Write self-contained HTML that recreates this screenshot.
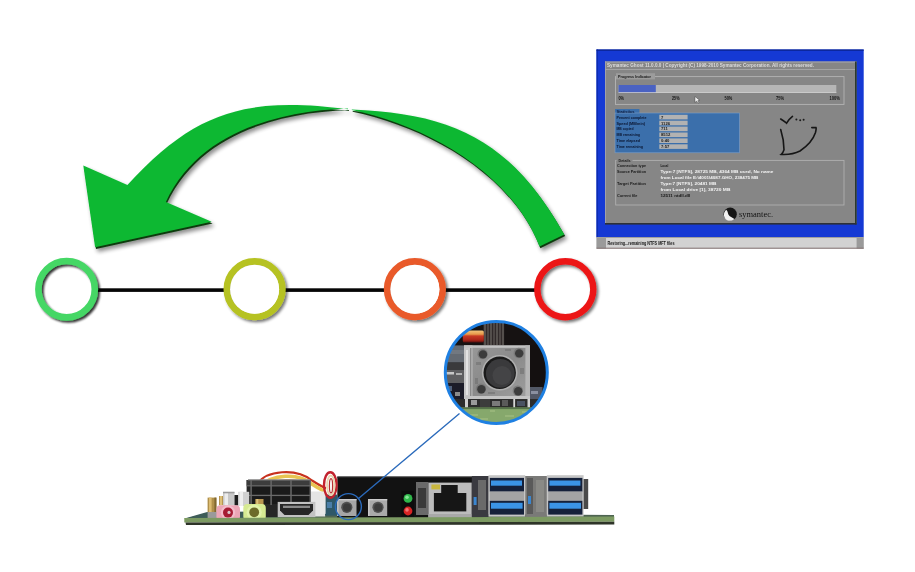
<!DOCTYPE html>
<html><head><meta charset="utf-8">
<style>
html,body{margin:0;padding:0;background:#fff;}
body{width:915px;height:572px;overflow:hidden;position:relative;font-family:"Liberation Sans",sans-serif;}
svg{position:absolute;left:0;top:0;display:block;filter:blur(0.4px);}
</style></head>
<body>
<svg width="915" height="572" viewBox="0 0 915 572">
<defs>
  <filter id="sh" x="-20%" y="-20%" width="150%" height="150%">
    <feGaussianBlur in="SourceAlpha" stdDeviation="2.2"/>
    <feOffset dx="2" dy="3" result="b"/>
    <feComponentTransfer><feFuncA type="linear" slope="0.45"/></feComponentTransfer>
    <feMerge><feMergeNode/><feMergeNode in="SourceGraphic"/></feMerge>
  </filter>
  <filter id="shr" x="-20%" y="-20%" width="150%" height="150%">
    <feGaussianBlur in="SourceAlpha" stdDeviation="1.1"/>
    <feOffset dx="1.6" dy="2" result="b"/>
    <feComponentTransfer><feFuncA type="linear" slope="0.8"/></feComponentTransfer>
    <feMerge><feMergeNode/><feMergeNode in="SourceGraphic"/></feMerge>
  </filter>
  <filter id="shy" x="-20%" y="-20%" width="150%" height="150%">
    <feGaussianBlur in="SourceAlpha" stdDeviation="1.6"/>
    <feOffset dx="1.8" dy="2.2" result="b"/>
    <feComponentTransfer><feFuncA type="linear" slope="0.55"/></feComponentTransfer>
    <feMerge><feMergeNode/><feMergeNode in="SourceGraphic"/></feMerge>
  </filter>
  <filter id="soft"><feGaussianBlur stdDeviation="0.45"/></filter>
  <filter id="soft2"><feGaussianBlur stdDeviation="0.7"/></filter>
  <linearGradient id="wireg" x1="0" y1="0" x2="0" y2="1">
    <stop offset="0" stop-color="#f0c27a"/>
    <stop offset="0.3" stop-color="#e89a4a"/>
    <stop offset="0.45" stop-color="#c83a24"/>
    <stop offset="0.8" stop-color="#a82418"/>
    <stop offset="1" stop-color="#501010"/>
  </linearGradient>
  <linearGradient id="bodyg" x1="0" y1="0" x2="1" y2="1">
    <stop offset="0" stop-color="#9a9a9a"/>
    <stop offset="0.5" stop-color="#8a8a8a"/>
    <stop offset="1" stop-color="#a0a0a0"/>
  </linearGradient>
  <clipPath id="mag"><circle cx="496.3" cy="372.4" r="51.5"/></clipPath>
</defs>

<!-- ===== ARROW ===== -->
<g id="arrow" filter="url(#sh)">
  <g transform="translate(0.9,1.7)" fill="#0b3a0e">
    <path id="aL" d="M348,109.2 C248.2,96.8 196,109.5 127.4,185.1 L83.3,165.5 L95.1,247.2 L211.7,221.8 L165.9,201.9 C198.9,131.8 278.6,110.9 348,108.4 Z"/>
    <path id="aR" d="M351.8,109.4 C454.2,113.5 511.7,140.9 564.3,234.4 L539.5,246.6 C511,171.8 425,125.3 351.8,110 Z"/>
  </g>
  <g fill="#0db833">
    <use href="#aL"/>
    <use href="#aR"/>
  </g>
</g>

<!-- ===== LINE + CIRCLES ===== -->
<rect x="96" y="288.3" width="440" height="3.6" fill="#050505"/>
<g fill="#fff">
  <circle cx="66.6" cy="289.2" r="28"/>
  <circle cx="254.6" cy="289.2" r="28"/>
  <circle cx="414.9" cy="289.2" r="28"/>
  <circle cx="565.3" cy="289.2" r="28"/>
</g>
<g filter="url(#shr)" fill="none">
  <circle cx="66.6" cy="289.2" r="28.2" stroke="#44d765" stroke-width="6.6"/>
</g>
<g filter="url(#shy)" fill="none">
  <circle cx="565.3" cy="289.2" r="28" stroke="#ec1418" stroke-width="6.4"/>
</g>
<g filter="url(#shy)" fill="none">
  <circle cx="254.6" cy="289.2" r="27.8" stroke="#b6c220" stroke-width="6.6"/>
  <circle cx="414.9" cy="289.2" r="27.8" stroke="#e95a2a" stroke-width="6.6"/>
</g>
<g fill="#fff">
  <circle cx="254.6" cy="289.2" r="24.5"/>
  <circle cx="414.9" cy="289.2" r="24.5"/>
</g>

<!-- ===== SCREENSHOT ===== -->
<g id="shot">
  <rect x="596.5" y="49.5" width="267.2" height="188" fill="#1539d4"/>
  <rect x="596.5" y="49.5" width="1.4" height="188" fill="#0c2cb0"/>
  <rect x="596.5" y="49.5" width="267.2" height="1.3" fill="#0a2490"/>
  <rect x="605" y="61.5" width="251.5" height="162.5" fill="#868686"/>
  <rect x="605" y="61.5" width="251.5" height="1" fill="#a8a8b0"/>
  <rect x="605" y="61.5" width="1" height="162.5" fill="#a0a0a8"/>
  <rect x="855" y="61.5" width="1.6" height="163" fill="#2c3a2c"/>
  <rect x="605" y="223" width="251.5" height="1.6" fill="#2c3038"/>
  <rect x="605" y="69" width="250" height="0.9" fill="#a8a8a8"/>
  <text x="607" y="67.2" font-size="4.6" fill="#dcdcdc" font-weight="bold" textLength="207" lengthAdjust="spacingAndGlyphs">Symantec Ghost 11.0.0.0 | Copyright (C) 1998-2010 Symantec Corporation. All rights reserved.</text>
  <!-- progress frame -->
  <rect x="615.5" y="76.6" width="228.5" height="27.8" fill="none" stroke="#b4b4b4" stroke-width="0.9"/>
  <rect x="616" y="73.2" width="39" height="6.2" fill="#9c9c9c"/>
  <text x="618" y="78.4" font-size="4.4" fill="#151515" font-weight="bold" textLength="33" lengthAdjust="spacingAndGlyphs">Progress Indicator</text>
  <rect x="618.5" y="85" width="217.8" height="8" fill="#b6b6b6"/>
  <rect x="618.5" y="85" width="37.3" height="8" fill="#4a62c2"/>
  <rect x="618.5" y="92.2" width="217.8" height="0.8" fill="#d0d0d0"/>
  <g font-size="5.4" fill="#141414" font-weight="bold">
    <text x="618.5" y="100.4" textLength="5.5" lengthAdjust="spacingAndGlyphs">0%</text>
    <text x="672" y="100.4" textLength="7.5" lengthAdjust="spacingAndGlyphs">25%</text>
    <text x="724.5" y="100.4" textLength="7.8" lengthAdjust="spacingAndGlyphs">50%</text>
    <text x="776" y="100.4" textLength="8" lengthAdjust="spacingAndGlyphs">75%</text>
    <text x="829.5" y="100.4" textLength="10.5" lengthAdjust="spacingAndGlyphs">100%</text>
  </g>
  <!-- cursor -->
  <path d="M695,96.5 L695,102.5 L696.6,101 L698,103.4 L699,103 L697.8,100.6 L699.8,100.4 Z" fill="#f4f4f4" stroke="#303030" stroke-width="0.4"/>
  <!-- statistics -->
  <rect x="615" y="113" width="124.6" height="39.8" fill="#3b6fab"/>
  <rect x="615" y="109" width="24.4" height="4.5" fill="#3b6fab"/>
  <rect x="615" y="113" width="124.6" height="39.8" fill="none" stroke="#7fa0c8" stroke-width="0.6"/>
  <text x="616.5" y="112.8" font-size="4.2" fill="#0d1d40" font-weight="bold" textLength="18" lengthAdjust="spacingAndGlyphs">Statistics</text>
  <g fill="#b2b2b2">
    <rect x="659.3" y="114.8" width="28.3" height="4.6"/>
    <rect x="659.3" y="120.7" width="28.3" height="4.6"/>
    <rect x="659.3" y="126.6" width="28.3" height="4.6"/>
    <rect x="659.3" y="132.5" width="28.3" height="4.6"/>
    <rect x="659.3" y="138.4" width="28.3" height="4.6"/>
    <rect x="659.3" y="144.3" width="28.3" height="4.6"/>
  </g>
  <g font-size="4.2" fill="#0a1530" font-weight="bold">
    <text x="616.5" y="118.6" textLength="30" lengthAdjust="spacingAndGlyphs">Percent complete</text>
    <text x="616.5" y="124.5" textLength="28.5" lengthAdjust="spacingAndGlyphs">Speed (MB/min)</text>
    <text x="616.5" y="130.4" textLength="17" lengthAdjust="spacingAndGlyphs">MB copied</text>
    <text x="616.5" y="136.3" textLength="23.5" lengthAdjust="spacingAndGlyphs">MB remaining</text>
    <text x="616.5" y="142.2" textLength="23.5" lengthAdjust="spacingAndGlyphs">Time elapsed</text>
    <text x="616.5" y="148.1" textLength="26.5" lengthAdjust="spacingAndGlyphs">Time remaining</text>
  </g>
  <g font-size="4.2" fill="#1a1a1a" font-weight="bold">
    <text x="661" y="118.6">7</text>
    <text x="661" y="124.5">1126</text>
    <text x="661" y="130.4">711</text>
    <text x="661" y="136.3">8512</text>
    <text x="661" y="142.2">0:40</text>
    <text x="661" y="148.1">7:57</text>
  </g>
  <!-- ghost -->
  <g fill="none" stroke="#161616" stroke-width="1.6" stroke-linecap="round">
    <path d="M780.7,119 Q784,121 786.6,123.2 Q789,119 792.5,116.4"/>
    <path d="M780.7,129.5 Q784,140 784,149.8 Q783,153 781.3,154.4 Q792,155 800,151 Q812,143 815.4,132.8 Q816.5,128.5 816,127.5 L811.8,127.6"/>
  </g>
  <g fill="#1c1c1c">
    <circle cx="796.4" cy="119.6" r="1"/>
    <circle cx="800.2" cy="120.2" r="1"/>
    <circle cx="803.6" cy="119.8" r="1"/>
  </g>
  <!-- details -->
  <rect x="615.7" y="160.4" width="228.3" height="44.6" fill="none" stroke="#b0b0b0" stroke-width="0.9"/>
  <rect x="616.5" y="157.5" width="16" height="5" fill="#868686"/>
  <text x="618.5" y="161.8" font-size="4.2" fill="#1a1a1a" font-weight="bold" textLength="12" lengthAdjust="spacingAndGlyphs">Details</text>
  <g font-size="4.2" fill="#1a1a1a" font-weight="bold">
    <text x="617" y="167.3" textLength="29" lengthAdjust="spacingAndGlyphs">Connection type</text>
    <text x="617" y="173.2" textLength="29" lengthAdjust="spacingAndGlyphs">Source Partition</text>
    <text x="617" y="185" textLength="29" lengthAdjust="spacingAndGlyphs">Target Partition</text>
    <text x="617" y="197" textLength="20.5" lengthAdjust="spacingAndGlyphs">Current file</text>
    <text x="660.4" y="167.3" textLength="8" lengthAdjust="spacingAndGlyphs">Local</text>
    <text x="660.4" y="197" textLength="30" lengthAdjust="spacingAndGlyphs">12511 ntdll.dll</text>
  </g>
  <g font-size="4.4" fill="#f4f4f4" font-weight="bold">
    <text x="660.4" y="173.2" textLength="113" lengthAdjust="spacingAndGlyphs">Type:7 [NTFS], 28725 MB, 4364 MB used, No name</text>
    <text x="660.4" y="179" textLength="98" lengthAdjust="spacingAndGlyphs">from Local file E:\4001\4087.GHO, 238475 MB</text>
    <text x="660.4" y="185" textLength="56" lengthAdjust="spacingAndGlyphs">Type:7 [NTFS], 20481 MB</text>
    <text x="660.4" y="190.8" textLength="70" lengthAdjust="spacingAndGlyphs">from Local drive [1], 38720 MB</text>
  </g>
  <!-- symantec logo -->
  <circle cx="730.2" cy="214.2" r="6.6" fill="#161616"/>
  <path d="M726.2,209.8 C723,212.5 723.2,218 727,220.2 C729.5,221.4 732.6,220.9 734.4,219 C732.6,217.2 729.4,216.6 728.4,214.4 C727.6,212.6 727.8,211 726.2,209.8 Z" fill="#f2f2f2"/>
  <text x="739" y="217.2" font-family="Liberation Serif, serif" font-size="9" fill="#121212" textLength="34" lengthAdjust="spacingAndGlyphs">symantec.</text>
  <!-- status bar -->
  <rect x="596.5" y="237" width="267.2" height="11.5" fill="#d2d2d2"/>
  <rect x="596.5" y="237" width="267.2" height="1" fill="#a0a0a0"/>
  <rect x="596.5" y="238" width="9.5" height="10.5" fill="#9a9a9a"/>
  <rect x="856.6" y="238" width="7.1" height="10.5" fill="#9a9a9a"/>
  <rect x="596.5" y="247.7" width="267.2" height="1" fill="#807070"/>
  <text x="607.5" y="244.8" font-size="4.6" fill="#141414" font-weight="bold" textLength="67" lengthAdjust="spacingAndGlyphs">Restoring...remaining NTFS MFT files</text>
</g>

<!-- ===== MOTHERBOARD ===== -->
<g id="board">
  <!-- board top surface -->
  <path d="M184,519 L211,512 L614,515 L614,518 Z" fill="#4e6452"/>
  <!-- black block -->
  <rect x="337.3" y="476.6" width="146" height="41" fill="#121212"/>
  <rect x="337.3" y="476.6" width="146" height="1.2" fill="#2a2a2a"/>
  <!-- wires arc above power connector -->
  <path d="M258,483.5 C266,470.5 296,467.5 312,480.5 C318,484.5 322,486.5 326,488.5" fill="none" stroke="#c8321e" stroke-width="2.2"/>
  <path d="M261.5,486 C271.5,474.5 298,472.5 311,483.5 C317,487.5 321,489.5 325,491.5" fill="none" stroke="#e8c452" stroke-width="3.6"/>
  <path d="M266,487 C276,478 298,477 310,486" fill="none" stroke="#d8843a" stroke-width="1.4"/>
  <!-- white connector -->
  <rect x="306.7" y="491.5" width="18.5" height="25" fill="#e4e4e4"/>
  <!-- power connector -->
  <rect x="246.6" y="480" width="64.4" height="37" fill="#262626"/>
  <rect x="246.6" y="480" width="64.4" height="5.5" fill="#3c3c3c"/>
  <rect x="248" y="479.2" width="62" height="1.2" fill="#8a8a8a"/>
  <g fill="#1a1a1a">
    <rect x="252.2" y="486.6" width="18" height="8"/>
    <rect x="272.2" y="486.6" width="18" height="8"/>
    <rect x="292" y="486.6" width="17.5" height="8"/>
    <rect x="252.2" y="496.4" width="18" height="7.6"/>
    <rect x="272.2" y="496.4" width="18" height="7.6"/>
    <rect x="292" y="496.4" width="17.5" height="7.6"/>
  </g>
  <g fill="#6a6a6a">
    <rect x="246.6" y="485.2" width="64.4" height="1.2"/>
    <rect x="246.6" y="494.8" width="64.4" height="1.2"/>
    <rect x="250.4" y="480" width="1.4" height="25"/>
    <rect x="270.4" y="480" width="1.4" height="25"/>
    <rect x="290.3" y="480" width="1.4" height="25"/>
    <rect x="309.6" y="480" width="1.4" height="25"/>
  </g>
  <!-- board top surface dark -->
  <path d="M184.5,518.6 L207.2,511.9 L260,511.5 L260,519 Z" fill="#3e5c58"/>
  <!-- gold caps -->
  <rect x="207.6" y="497.6" width="8.8" height="14.7" fill="#b0904a"/>
  <rect x="209" y="497.6" width="2.6" height="14.7" fill="#dcbc72"/>
  <rect x="214.4" y="497.6" width="2" height="14.7" fill="#806830"/>
  <rect x="207.6" y="512" width="9.5" height="6" fill="#9a9a9a"/>
  <rect x="219" y="496" width="7.5" height="9.2" fill="#b89650"/>
  <rect x="220" y="496" width="2" height="9.2" fill="#dcc07a"/>
  <!-- silver caps -->
  <rect x="223" y="491.8" width="11.5" height="13.5" fill="#c8c8c8"/>
  <rect x="224.5" y="491.8" width="3.5" height="13.5" fill="#ececec"/>
  <rect x="223" y="491.8" width="11.5" height="1.5" fill="#9a9a9a"/>
  <rect x="234.5" y="495" width="3.8" height="10.5" fill="#1e1e1e"/>
  <rect x="238.3" y="491.8" width="10.9" height="14.2" fill="#d0d0d0"/>
  <rect x="239.5" y="491.8" width="3.5" height="14.2" fill="#eeeeee"/>
  <rect x="255.3" y="499" width="8.2" height="7" fill="#b89650"/>
  <rect x="256.3" y="499" width="2" height="7" fill="#dcc07a"/>
  <!-- audio jacks -->
  <rect x="216.4" y="505.2" width="23.6" height="15.6" rx="4" fill="#eca6b6"/>
  <circle cx="228" cy="512.6" r="7.2" fill="#f4bccb"/>
  <circle cx="228" cy="512.6" r="5" fill="#a61c34"/>
  <circle cx="229" cy="512.4" r="1.6" fill="#d8c8cc"/>
  <rect x="243.3" y="504" width="22.5" height="16.5" rx="4" fill="#d6ea92"/>
  <circle cx="254.2" cy="512.3" r="7.6" fill="#e2f2aa"/>
  <circle cx="254.2" cy="512.3" r="4.9" fill="#6c6a2a"/>
  <!-- HDMI -->
  <rect x="277.7" y="501.9" width="37.7" height="15.3" fill="#c2c2c2"/>
  <path d="M280,504 L313,504 L313,510.5 L308.5,515 L284.5,515 L280,510.5 Z" fill="#262626"/>
  <rect x="283" y="505.7" width="27" height="2.3" fill="#8a8a8a"/>
  <!-- small blue parts near buttons -->
  <rect x="325.2" y="494.6" width="12" height="21" fill="#2e5868"/>
  <rect x="327" y="502" width="5" height="6" fill="#4a7ea8"/>
  <rect x="320" y="492" width="5.5" height="22" fill="#e8e8e8"/>
  <!-- red loop wires -->
  <ellipse cx="330.3" cy="485" rx="6.3" ry="12.8" fill="none" stroke="#c2222e" stroke-width="2.4"/>
  <ellipse cx="330.8" cy="485.4" rx="3.7" ry="9.8" fill="none" stroke="#e8d6b0" stroke-width="1.8"/>
  <ellipse cx="331" cy="485.8" rx="1.6" ry="7.2" fill="none" stroke="#b83030" stroke-width="1.3"/>
  <!-- buttons -->
  <rect x="337" y="499" width="19.5" height="17" fill="#a6a6a6"/>
  <rect x="337" y="499" width="19.5" height="1.4" fill="#cacaca"/>
  <rect x="337" y="499" width="1.6" height="17" fill="#c4c4c4"/>
  <circle cx="346.8" cy="507.3" r="5.6" fill="#505050"/>
  <circle cx="347" cy="507.5" r="4" fill="#3a3a3a"/>
  <rect x="368" y="499" width="19.2" height="17" fill="#aaaaaa"/>
  <rect x="368" y="499" width="19.2" height="1.4" fill="#cccccc"/>
  <rect x="368" y="499" width="1.6" height="17" fill="#c6c6c6"/>
  <circle cx="378" cy="507.3" r="5.6" fill="#525252"/>
  <circle cx="378.2" cy="507.5" r="4" fill="#3c3c3c"/>
  <!-- LEDs -->
  <rect x="401.4" y="490.8" width="12.6" height="25.6" fill="#0c0c0c"/>
  <circle cx="408" cy="498.4" r="4.4" fill="#2fb64a"/>
  <circle cx="407" cy="497.3" r="1.8" fill="#86e696"/>
  <circle cx="408" cy="511" r="4.4" fill="#d82424"/>
  <circle cx="407" cy="509.9" r="1.8" fill="#f27474"/>
  <!-- left of RJ45 -->
  <rect x="416" y="482" width="12.4" height="33" fill="#6a6a6a"/>
  <rect x="418" y="488" width="8" height="20" fill="#3a3a3a"/>
  <!-- RJ45 -->
  <rect x="428.4" y="482.6" width="43.4" height="36.1" fill="#bcbcbc"/>
  <rect x="433.9" y="493" width="32.4" height="18.4" fill="#161616"/>
  <rect x="441.2" y="485" width="16.5" height="8" fill="#161616"/>
  <rect x="431.4" y="484.5" width="8.6" height="4.9" fill="#c8b63e"/>
  <rect x="428.4" y="514" width="43.4" height="4.7" fill="#a8a8a8"/>
  <!-- between RJ45 and USB -->
  <rect x="471.8" y="476" width="17" height="41" fill="#3a3a40"/>
  <rect x="473.6" y="497" width="3" height="8" fill="#3a86d0"/>
  <rect x="478" y="480" width="8" height="30" fill="#6a6a6a"/>
  <!-- USB group 1 -->
  <g>
    <rect x="488.5" y="475.2" width="36.7" height="41.4" fill="#c6c6c6"/>
    <rect x="489.8" y="477.9" width="34.2" height="13.7" fill="#16213a"/>
    <rect x="491" y="480.5" width="31" height="5.2" fill="#3b94e6"/>
    <rect x="489.8" y="491.6" width="34.2" height="9.2" fill="#a4a4a4"/>
    <rect x="489.8" y="500.8" width="34.2" height="13.8" fill="#16213a"/>
    <rect x="491" y="502.8" width="31.6" height="5.9" fill="#3b94e6"/>
  </g>
  <!-- between USB groups -->
  <rect x="525.2" y="476" width="21.7" height="41" fill="#7a7a78"/>
  <rect x="527" y="478" width="6" height="36" fill="#5a5a5a"/>
  <rect x="528" y="496" width="3" height="8" fill="#3a86d0"/>
  <rect x="536" y="480" width="8" height="32" fill="#8a8a86"/>
  <!-- USB group 2 -->
  <g>
    <rect x="546.9" y="475.2" width="36.7" height="41.4" fill="#c6c6c6"/>
    <rect x="548.2" y="477.9" width="34.2" height="13.7" fill="#16213a"/>
    <rect x="549.4" y="480.5" width="31" height="5.2" fill="#3b94e6"/>
    <rect x="548.2" y="491.6" width="34.2" height="9.2" fill="#a4a4a4"/>
    <rect x="548.2" y="500.8" width="34.2" height="13.8" fill="#16213a"/>
    <rect x="549.4" y="502.8" width="31.6" height="5.9" fill="#3b94e6"/>
  </g>
  <rect x="583.6" y="479" width="4.6" height="30" fill="#4a4a4a"/>
  <!-- board front edge -->
  <path d="M184.3,518 L614.3,516.6 L614.3,521.8 L184.3,522.4 Z" fill="#7c9a62"/>
  <path d="M185.5,522.4 L614.3,521.8 L614.3,524.6 L186,525 Z" fill="#2e3428"/>
</g>
<!-- ===== MAGNIFIER ===== -->
<g id="magnifier">
  <g clip-path="url(#mag)">
    <rect x="440" y="318" width="115" height="110" fill="#161212"/>
    <!-- ribbed connector top -->
    <rect x="483.6" y="318" width="20.5" height="27.5" fill="#4c4644"/>
    <g stroke="#2c2626" stroke-width="0.9">
      <line x1="486.5" y1="318" x2="486.5" y2="345"/><line x1="489.5" y1="318" x2="489.5" y2="345"/>
      <line x1="492.5" y1="318" x2="492.5" y2="345"/><line x1="495.5" y1="318" x2="495.5" y2="345"/>
      <line x1="498.5" y1="318" x2="498.5" y2="345"/><line x1="501.5" y1="318" x2="501.5" y2="345"/>
    </g>
    <g stroke="#6a6462" stroke-width="0.6">
      <line x1="485" y1="318" x2="485" y2="345"/><line x1="491" y1="318" x2="491" y2="345"/>
      <line x1="497" y1="318" x2="497" y2="345"/><line x1="503" y1="318" x2="503" y2="345"/>
    </g>
    <!-- wires -->
    <rect x="462.8" y="330.6" width="21" height="12" rx="1.5" fill="url(#wireg)"/>
    <!-- left components -->
    <rect x="443" y="345.4" width="21" height="17.2" fill="#646a72"/>
    <rect x="443" y="350" width="21" height="4" fill="#727880" />
    <rect x="443" y="362.6" width="21" height="8" fill="#3a3a3c"/>
    <rect x="443" y="370" width="21" height="13" fill="#5e5e60"/>
    <rect x="446" y="372" width="8" height="2.5" fill="#c8c8c8"/>
    <rect x="456" y="373" width="6" height="2" fill="#b0b0b0"/>
    <rect x="443" y="383" width="21" height="16.4" fill="#1c1c28"/>
    <rect x="448" y="386" width="4" height="5" fill="#50607a"/>
    <rect x="455" y="392" width="5" height="4" fill="#8a8a8a"/>
    <!-- right components -->
    <rect x="530" y="345" width="20" height="42" fill="#141010"/>
    <rect x="528.5" y="387" width="14" height="16.5" fill="#525866"/>
    <rect x="531" y="391" width="7" height="3" fill="#8a90a0"/>
    <!-- legs zone -->
    <rect x="443" y="399" width="110" height="8.6" fill="#2c2c2c"/>
    <rect x="465" y="399" width="3" height="8.6" fill="#d0d0d0"/>
    <rect x="471" y="400" width="6" height="5" fill="#9a9a9a"/>
    <rect x="480" y="399" width="10" height="8" fill="#3c3c3c"/>
    <rect x="492" y="401" width="8" height="5" fill="#7a7a7a"/>
    <rect x="502" y="400" width="6" height="6" fill="#5a5a5a"/>
    <rect x="513.3" y="399" width="1.8" height="8.6" fill="#d8d8d8"/>
    <rect x="527.5" y="399" width="2.5" height="8.6" fill="#d4d4d4"/>
    <rect x="517" y="401" width="8" height="5" fill="#4a5262"/>
    <!-- PCB -->
    <rect x="440" y="407.5" width="115" height="21" fill="#86a86c"/>
    <rect x="440" y="407.5" width="115" height="1.6" fill="#56744a"/>
    <g fill="#9cb87e" opacity="0.8">
      <rect x="452" y="411" width="6" height="2"/><rect x="470" y="414" width="8" height="2"/>
      <rect x="490" y="410" width="5" height="2"/><rect x="505" y="415" width="9" height="2"/>
      <rect x="522" y="411" width="6" height="2"/><rect x="480" y="418" width="8" height="2"/>
    </g>
    <!-- button body -->
    <rect x="464" y="345.4" width="66" height="53.6" fill="url(#bodyg)"/>
    <rect x="464" y="345.4" width="8.4" height="53.6" fill="#c6c6c6"/>
    <rect x="466" y="350" width="2" height="45" fill="#e2e2e2"/>
    <rect x="470" y="348" width="1.5" height="48" fill="#8a8a8a"/>
    <rect x="464" y="345.4" width="66" height="2.4" fill="#c2c2c2"/>
    <rect x="525.4" y="345.4" width="4.6" height="53.6" fill="#b6b6b6"/>
    <rect x="464" y="396" width="66" height="3" fill="#c4c4c4"/>
    <g fill="#6e6e6e" opacity="0.55">
      <rect x="476" y="362" width="5" height="3"/><rect x="488" y="392" width="7" height="2"/>
      <rect x="520" y="368" width="4" height="6"/><rect x="475" y="378" width="3" height="6"/>
      <rect x="505" y="349" width="6" height="2"/>
    </g>
    <!-- holes -->
    <g fill="#7a7a7a">
      <circle cx="482.6" cy="354" r="5.2"/>
      <circle cx="518.8" cy="353" r="5.2"/>
      <circle cx="481" cy="388.8" r="5.2"/>
      <circle cx="517.8" cy="390.8" r="5.2"/>
    </g>
    <g fill="#3c3c3c">
      <circle cx="483" cy="354.4" r="4.2"/>
      <circle cx="519.2" cy="353.4" r="4.2"/>
      <circle cx="481.4" cy="389.2" r="4.2"/>
      <circle cx="518.2" cy="391.2" r="4.2"/>
    </g>
    <!-- round button -->
    <circle cx="499.7" cy="372.8" r="17.8" fill="#b0b0b0"/>
    <circle cx="499.7" cy="372.8" r="16.2" fill="#1a1a1a"/>
    <circle cx="500.3" cy="373.4" r="14.4" fill="#3a3a3c"/>
    <circle cx="502" cy="375.5" r="9.5" fill="#444446"/>
  </g>
  <circle cx="496.3" cy="372.4" r="51" fill="none" stroke="#1f80e2" stroke-width="3"/>
</g>
<!-- connector line + small circle -->
<line x1="459.5" y1="413.5" x2="357.9" y2="499" stroke="#2a6abb" stroke-width="1.4"/>
<circle cx="348.4" cy="506.6" r="13" fill="none" stroke="#2a6abb" stroke-width="1.4"/>
</svg>
</body></html>
